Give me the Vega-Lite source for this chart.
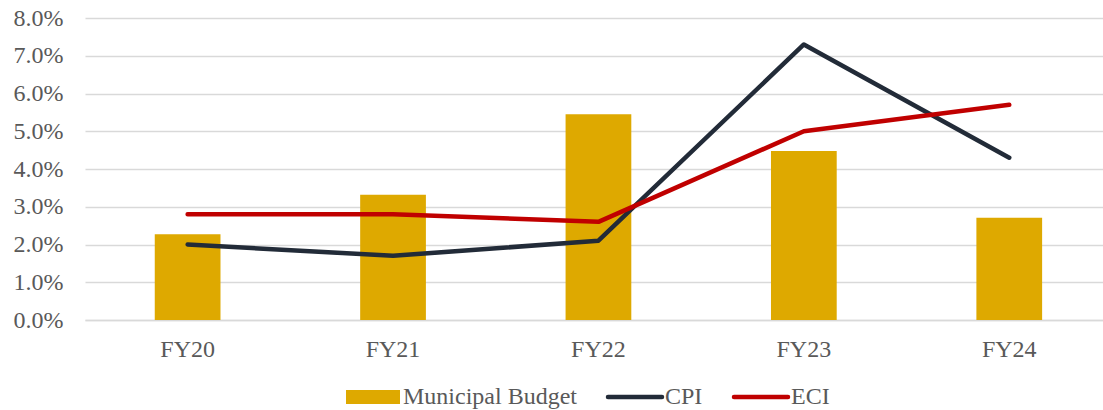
{
  "$schema": "https://vega.github.io/schema/vega-lite/v6.json",
  "width": 1018,
  "height": 302,
  "autosize": {"type": "none"},
  "padding": {"left": 85, "top": 18, "right": 0, "bottom": 90},
  "background": "white",
  "config": {"view": {"stroke": null}, "font": "Liberation Serif"},
  "data": {
    "values": [
      {"fy": "FY20", "series": "Municipal Budget", "value": 0.0227},
      {"fy": "FY21", "series": "Municipal Budget", "value": 0.0332},
      {"fy": "FY22", "series": "Municipal Budget", "value": 0.0545},
      {"fy": "FY23", "series": "Municipal Budget", "value": 0.0448},
      {"fy": "FY24", "series": "Municipal Budget", "value": 0.0271},
      {"fy": "FY20", "series": "CPI", "value": 0.020},
      {"fy": "FY21", "series": "CPI", "value": 0.017},
      {"fy": "FY22", "series": "CPI", "value": 0.021},
      {"fy": "FY23", "series": "CPI", "value": 0.073},
      {"fy": "FY24", "series": "CPI", "value": 0.043},
      {"fy": "FY20", "series": "ECI", "value": 0.028},
      {"fy": "FY21", "series": "ECI", "value": 0.028},
      {"fy": "FY22", "series": "ECI", "value": 0.026},
      {"fy": "FY23", "series": "ECI", "value": 0.050},
      {"fy": "FY24", "series": "ECI", "value": 0.057}
    ]
  },
  "encoding": {
    "x": {
      "field": "fy",
      "type": "nominal",
      "sort": null,
      "scale": {"paddingInner": 0.68, "paddingOuter": 0.318, "align": 0.534},
      "axis": {
        "title": null,
        "labelAngle": 0,
        "ticks": false,
        "domain": true,
        "domainColor": "#D9D9D9",
        "domainWidth": 1.3,
        "labelFontSize": 24,
        "labelColor": "#595959",
        "labelPadding": 17,
        "labelBaseline": "top"
      }
    },
    "y": {
      "field": "value",
      "type": "quantitative",
      "scale": {"domain": [0, 0.08], "nice": false},
      "axis": {
        "title": null,
        "format": ".1%",
        "values": [0, 0.01, 0.02, 0.03, 0.04, 0.05, 0.06, 0.07, 0.08],
        "grid": true,
        "gridColor": "#D9D9D9",
        "gridWidth": 1.3,
        "domain": false,
        "ticks": false,
        "labelFontSize": 24,
        "labelColor": "#595959",
        "labelPadding": 22
      }
    },
    "color": {
      "field": "series",
      "type": "nominal",
      "scale": {
        "domain": ["Municipal Budget", "CPI", "ECI"],
        "range": ["#DEA900", "#222B38", "#C00000"]
      },
      "legend": {
        "orient": "none",
        "legendX": 276,
        "legendY": 367,
        "direction": "horizontal",
        "title": null,
        "labelFontSize": 24,
        "labelColor": "#595959",
        "labelLimit": 400,
        "labelOffset": 18,
        "columnPadding": 22,
        "symbolSize": 2916,
        "encode": {
          "symbols": {
            "update": {
              "shape": {"signal": "datum.value === 'Municipal Budget' ? 'M-1,-0.26H1V0.26H-1Z' : 'stroke'"},
              "fill": {"signal": "datum.value === 'Municipal Budget' ? '#DEA900' : 'transparent'"},
              "stroke": {"signal": "datum.value === 'CPI' ? '#222B38' : (datum.value === 'ECI' ? '#C00000' : 'transparent')"},
              "strokeWidth": {"signal": "datum.value === 'Municipal Budget' ? 0 : 4.5"},
              "strokeCap": {"value": "round"},
              "opacity": {"value": 1}
            }
          }
        }
      }
    }
  },
  "layer": [
    {
      "transform": [{"filter": "datum.series === 'Municipal Budget'"}],
      "mark": {"type": "bar"}
    },
    {
      "transform": [{"filter": "datum.series !== 'Municipal Budget'"}],
      "mark": {"type": "line", "strokeWidth": 4.5, "strokeCap": "round", "strokeJoin": "round"}
    }
  ]
}
